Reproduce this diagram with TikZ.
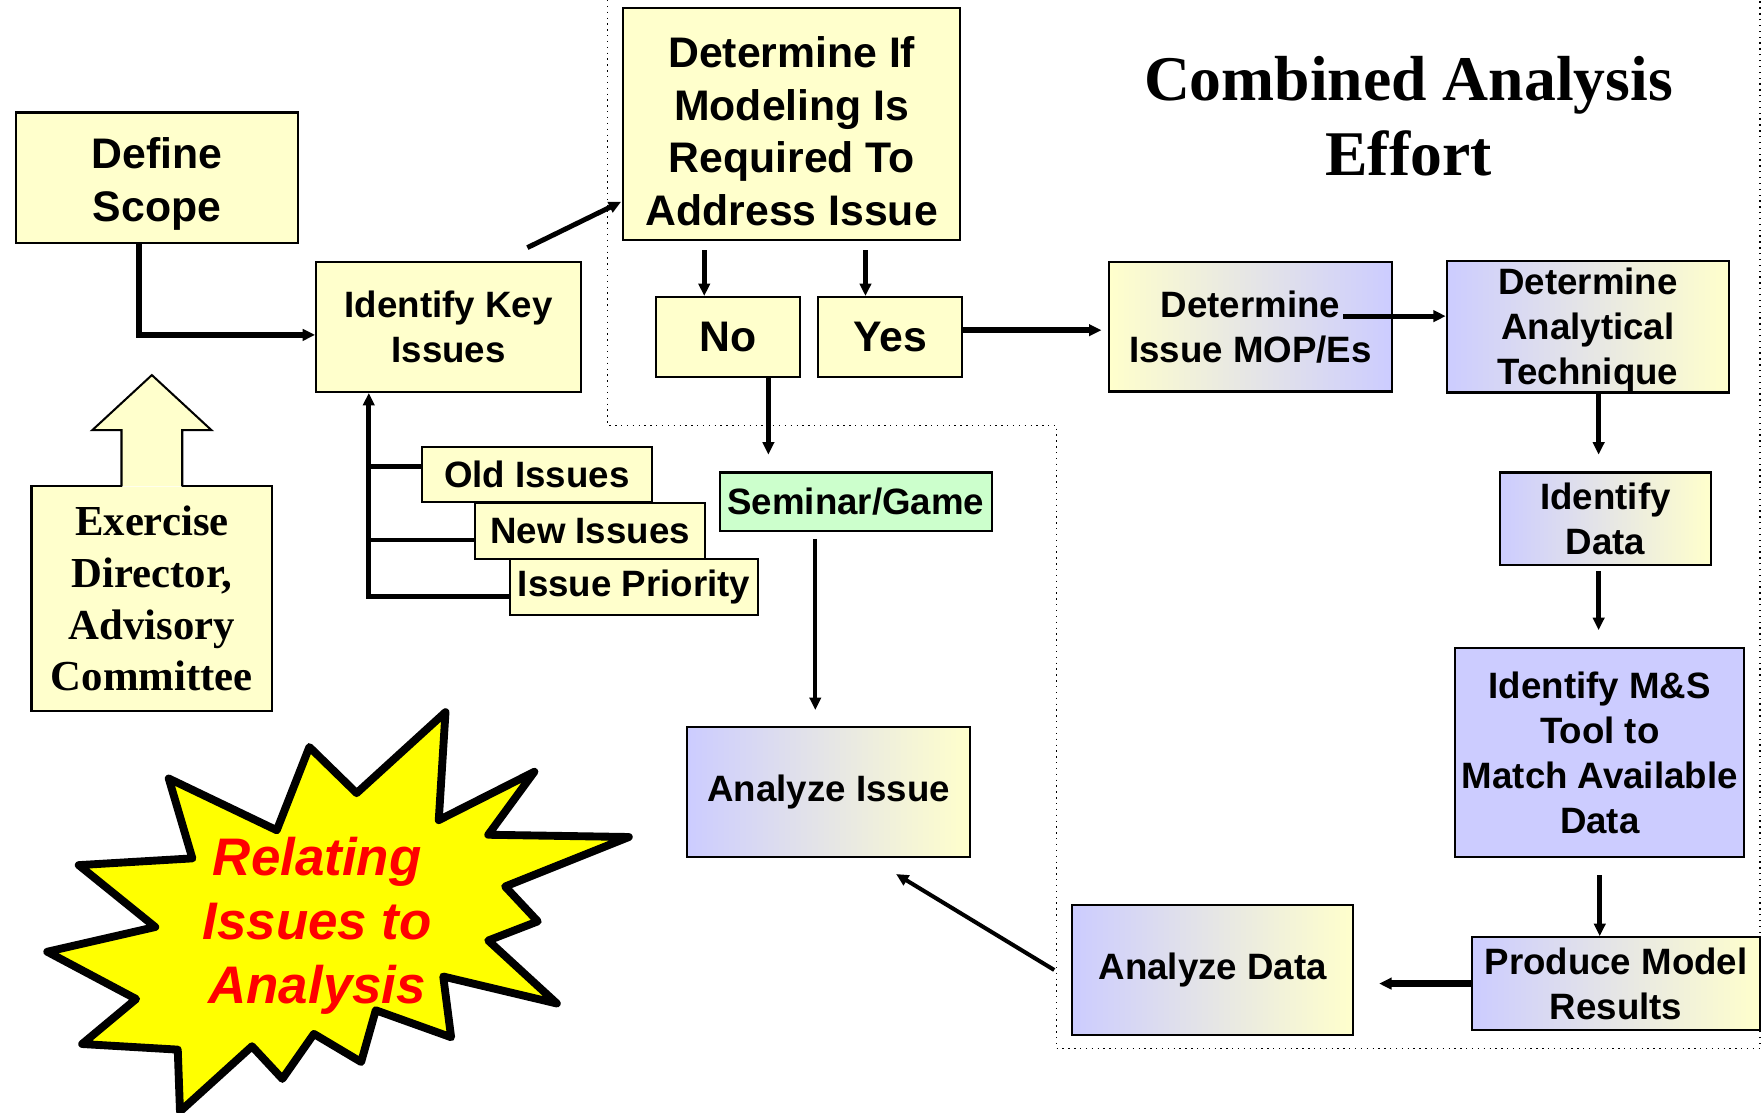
\documentclass[tikz,border=0pt]{standalone}
\usepackage{fontspec}
\setmainfont{Liberation Serif}
\setsansfont{Liberation Sans}
\usepackage{xcolor}
\usetikzlibrary{positioning,calc,arrows.meta}

\definecolor{boxyellow}{RGB}{255,255,204}
\definecolor{boxblue}{RGB}{204,204,255}
\definecolor{boxgreen}{RGB}{204,255,204}
\definecolor{burstyellow}{RGB}{255,255,0}

\begin{document}
\begin{tikzpicture}[x=0.5pt, y=-0.5pt,
  flow box/.style={draw, line width=0.9pt, align=center, inner sep=0pt,
    font=\sffamily\bfseries\fontsize{16.3}{20}\selectfont},
  big box/.style={flow box, font=\sffamily\bfseries\fontsize{19}{23.5}\selectfont},
  plain fill/.style={fill=boxyellow},
  fade fill/.style={left color=boxblue, right color=boxyellow},
  fade back/.style={left color=boxyellow, right color=boxblue},
  flow arrow/.style={-{Triangle[length=5.5pt,width=5pt]}, line width=2.2pt},
  thin arrow/.style={flow arrow, line width=1.8pt},
  branch/.style={line width=2.2pt}]

  \useasboundingbox (0,0) rectangle (1568,989.3);

  % dotted frame round the modelling part
  \draw[dotted, line width=0.6pt] (540,0) |- (939,378) |- (1564.5,932) -- (1564.5,0);

  \node[big box, plain fill, minimum width=125.5pt, minimum height=58pt] (scope) at (139.5,158) {\rule{0pt}{19pt}Define\\Scope};
  \node[flow box, plain fill, minimum width=117.8pt, minimum height=57.7pt] (key) at (398.8,290.7) {Identify Key\\Issues};
  \node[big box, plain fill, minimum width=149.75pt, minimum height=103pt] (det) at (703.75,110.4) {\rule{0pt}{20pt}Determine If\\Modeling Is\\Required To\\Address Issue};
  \node[big box, plain fill, minimum width=64pt, minimum height=35.5pt] (no) at (647,299.5) {No};
  \node[big box, plain fill, minimum width=64pt, minimum height=35.5pt, right=7.25pt of no] (yes) {Yes};

  \node[flow box, fade back, minimum width=125.5pt, minimum height=57.5pt] (mop) at (1111.5,290.5) {Determine\\Issue MOP/Es};
  \node[flow box, fade fill, minimum width=125.5pt, minimum height=57.5pt] (tech) at (1411.5,290.5) {\rule{0pt}{15pt}Determine\\Analytical\\Technique};
  \node[flow box, fade fill, minimum width=94pt, minimum height=41pt] (data) at (1427,461) {Identify\\Data};
  \node[flow box, fill=boxblue, minimum width=128.5pt, minimum height=93pt] (ms) at (1422,669) {Identify M\&S\\Tool to\\Match Available\\Data};
  \node[flow box, fade fill, minimum width=128pt, minimum height=41.3pt] (prod) at (1436.5,874.3) {Produce Model\\Results};
  \node[flow box, fade fill, minimum width=125pt, minimum height=57.7pt] (adata) at (1078,862.2) {Analyze Data};
  \node[flow box, fade fill, minimum width=125.5pt, minimum height=58pt] (issue) at (736.5,704) {Analyze Issue};
  \node[flow box, fill=boxgreen, minimum width=121pt, minimum height=26pt] (sem) at (760.7,446) {Seminar/Game};

  \node[flow box, plain fill, minimum width=102.2pt, minimum height=24.5pt] (old) at (477.2,422) {Old Issues};
  \node[flow box, plain fill, minimum width=102pt, minimum height=25pt] (new) at (524.5,472) {New Issues};
  \node[flow box, plain fill, minimum width=110pt, minimum height=25pt] (prio) at (563.6,522) {Issue Priority};

  % box with the arrow on top
  \node[fill=boxyellow, inner sep=0pt, minimum width=106.6pt, minimum height=99.2pt, align=center,
    font=\bfseries\fontsize{19}{23}\selectfont] (exer) at (135,532) {Exercise\\Director,\\Advisory\\Committee};
  \filldraw[fill=boxyellow, line width=0.9pt] ($(exer.north)+(-27,0)$) -- ++(0,-50) -- ++(-26,0) -- ++(53,-49) -- ++(53,49) -- ++(-26,0) -- ++(0,50);
  \draw[line width=0.9pt] ($(exer.north)+(-27,0)$) -| (exer.south west) -| (exer.north east) -- ($(exer.north)+(27,0)$);

  \node[font=\bfseries\fontsize{28.3}{33.5}\selectfont, align=center] (title) at (1252,103.5) {Combined Analysis\\Effort};

  % starburst
  \filldraw[fill=burstyellow, line width=3.5pt, line join=round]
    (396,633) -- (390,729) -- (475,686) -- (434,742) -- (559,744) -- (449,788) -- (478,819) -- (434,836)
    -- (495,892) -- (394,868) -- (401,922) -- (334,898) -- (321,944) -- (279,919) -- (251,959) -- (224,930)
    -- (160,988) -- (158,933) -- (73,928) -- (121,888) -- (42,846) -- (138,824) -- (70,769) -- (171,763)
    -- (150,692) -- (246,738) -- (275,664) -- (317,705) -- cycle;
  \node[font=\sffamily\bfseries\itshape\fontsize{23.5}{28.5}\selectfont, text=red, align=center] (burst) at (282,823) {Relating\\Issues to\\Analysis};

  % connectors
  \draw[flow arrow, line width=2.4pt] ($(scope.south)+(-16,0)$) |- ($(key.west)+(0,7)$);
  \draw[flow arrow] ($(key.north)+(70,-12)$) -- ($(det.west)+(-1,69)$);
  \draw[flow arrow] ($(det.south -| no.north)+(-21,8)$) -- ($(no.north)+(-21,0)$);
  \draw[flow arrow] ($(det.south -| yes.north)+(-22,8)$) -- ($(yes.north)+(-22,0)$);
  \draw[flow arrow, line width=2.4pt, shorten >=3pt] ($(yes.east)+(0,-6)$) coordinate (ya) -- (ya -| mop.west);
  \draw[flow arrow] ($(mop.east)+(-44,-9.5)$) -- ($(tech.west)+(0,-9.5)$);
  \draw[flow arrow, shorten >=7.5pt] ($(tech.south)+(9.5,0)$) coordinate (ta) -- (ta |- data.north);
  \draw[flow arrow, shorten <=2.5pt, shorten >=7.5pt] ($(data.south)+(-6,0)$) coordinate (da) -- (da |- ms.north);
  \draw[flow arrow, shorten <=7.5pt] (ms.south) -- (ms.south |- prod.north);
  \draw[flow arrow, line width=2.8pt, shorten >=11pt] (prod.west) -- (prod.west -| adata.east);
  \draw[thin arrow] ($(adata.west)+(-15,0)$) -- ($(issue.south)+(60,14)$);
  \draw[flow arrow, shorten >=7.5pt] ($(no.south)+(36,0)$) coordinate (nb) -- (nb |- sem.north);
  \draw[thin arrow, shorten <=3pt, shorten >=7pt] ($(sem.south)+(-36,0)$) coordinate (sb) -- (sb |- issue.north);

  % issue branches
  \coordinate (trunk) at ($(key.south)+(-71,0)$);
  \draw[flow arrow, branch] ($(prio.west)+(0,8)$) -| (trunk);
  \draw[branch] ($(new.west)+(0,8)$) -- ++(-94.5,0);
  \draw[branch] ($(old.west)+(0,-7)$) -- ++(-47,0);
\end{tikzpicture}
\end{document}
